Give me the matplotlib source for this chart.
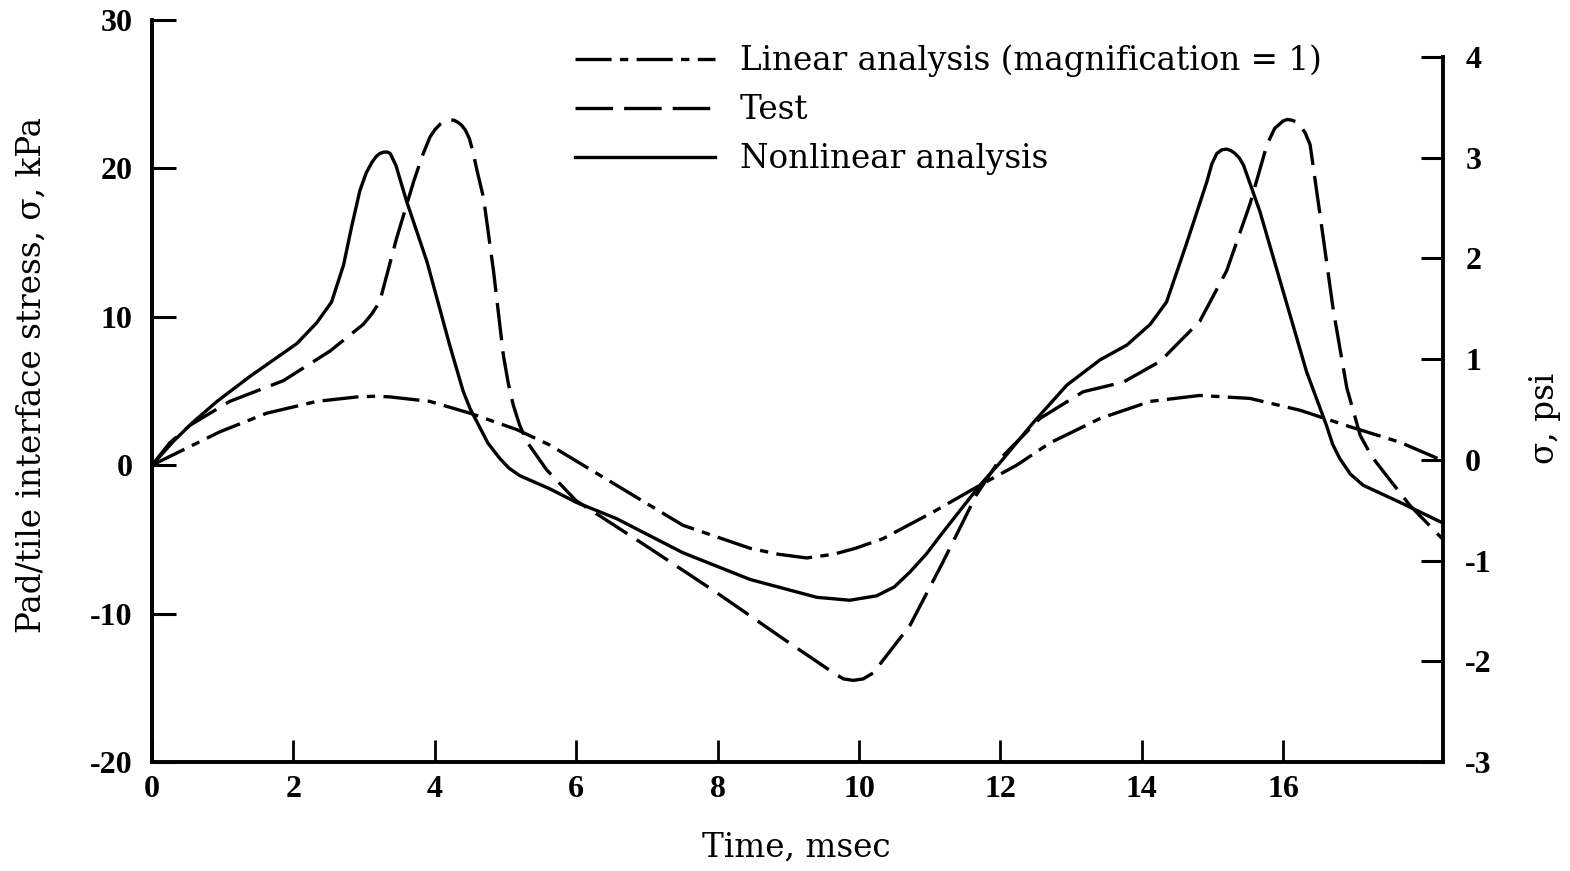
import matplotlib
matplotlib.use("Agg")
import matplotlib.pyplot as plt

# ---------------- data ----------------
nonlinear_t = [0, 0.30, 0.58, 0.92, 1.39, 2.05, 2.33, 2.54, 2.71, 2.82, 2.94, 3.03, 3.11, 3.17,
               3.22, 3.28, 3.33, 3.37, 3.45, 3.60, 3.89, 4.21, 4.40, 4.50, 4.62, 4.75, 4.92, 5.05,
               5.20, 5.63, 6.0, 6.57, 7.51, 8.46, 9.40, 9.87, 10.25, 10.50, 10.72, 10.95, 11.19,
               11.71, 12.0, 12.47, 12.94, 13.41, 13.79, 14.12, 14.35, 14.63, 14.92, 14.99, 15.06,
               15.13, 15.20, 15.26, 15.32, 15.38, 15.44, 15.67, 16.0, 16.33, 16.61, 16.70, 16.80,
               16.95, 17.13, 17.65, 18.26]
nonlinear_s = [0, 1.6, 2.9, 4.3, 6.0, 8.2, 9.6, 11.0, 13.5, 16.0, 18.5, 19.7, 20.4, 20.8,
               21.0, 21.1, 21.1, 21.0, 20.2, 17.8, 13.7, 8.1, 5.0, 3.8, 2.7, 1.5, 0.45, -0.2,
               -0.7, -1.6, -2.5, -3.6, -5.9, -7.7, -8.9, -9.1, -8.8, -8.2, -7.2, -6.0, -4.5,
               -1.35, 0.2, 2.9, 5.4, 7.1, 8.1, 9.5, 11.0, 14.9, 19.1, 20.3, 21.0,
               21.25, 21.3, 21.2, 21.0, 20.7, 20.2, 17.1, 11.7, 6.3, 2.7, 1.4, 0.45,
               -0.6, -1.35, -2.5, -3.9]

test_t = [0, 0.25, 0.54, 1.10, 1.86, 2.52, 2.99, 3.11, 3.22, 3.46, 3.70, 3.82, 3.93, 4.0, 4.08,
          4.14, 4.21, 4.27, 4.33, 4.38, 4.43, 4.49, 4.54, 4.60, 4.69, 4.83, 4.97, 5.04, 5.11,
          5.20, 5.30, 5.58, 6.0, 6.2, 7.04, 7.99, 8.93, 9.64, 9.78, 9.92, 10.06, 10.20, 10.72,
          11.19, 11.66, 12.0, 12.56, 13.17, 13.74, 14.26, 14.82, 15.20, 15.53, 15.77, 15.88,
          16.0, 16.06, 16.12, 16.18, 16.24, 16.31, 16.38, 16.52, 16.71, 16.90, 17.09, 17.25,
          17.42, 17.79, 18.26]
test_s = [0, 1.5, 2.7, 4.3, 5.7, 7.7, 9.5, 10.2, 11.0, 15.3, 19.1, 20.8, 22.1, 22.6, 23.0,
          23.2, 23.25, 23.25, 23.1, 22.9, 22.6, 22.0, 21.1, 19.8, 18.0, 13.1, 7.4, 5.5, 4.05,
          2.7, 1.6, -0.3, -2.4, -3.0, -5.6, -8.6, -11.7, -14.0, -14.4, -14.5, -14.4, -14.0, -10.8,
          -6.5, -2.0, 0.45, 3.15, 4.95, 5.6, 7.0, 9.7, 13.1, 17.6, 21.6, 22.7,
          23.2, 23.3, 23.25, 23.15, 22.9, 22.4, 21.6, 16.9, 10.4, 5.2, 2.0, 0.6,
          -0.45, -2.7, -5.0]

linear_t = [0, 0.96, 1.62, 2.33, 2.90, 3.18, 3.37, 3.93, 4.50, 5.16, 5.63, 6.29, 6.57, 7.51,
            8.46, 8.86, 9.26, 9.64, 9.95, 10.34, 11.05, 11.71, 12.23, 12.70, 13.41, 14.12,
            14.82, 15.53, 16.24, 16.94, 17.65, 18.26]
linear_s = [0, 2.25, 3.5, 4.3, 4.6, 4.65, 4.6, 4.3, 3.5, 2.4, 1.35, -0.55, -1.35, -4.05,
            -5.6, -6.0, -6.25, -6.0, -5.6, -4.95, -3.15, -1.35, 0.0, 1.5, 3.15, 4.3,
            4.7, 4.5, 3.7, 2.6, 1.55, 0.3]

labels = ["Linear analysis (magnification = 1)", "Test", "Nonlinear analysis"]
x_ticks = [0, 2, 4, 6, 8, 10, 12, 14, 16]
kpa_ticks = [-20, -10, 0, 10, 20, 30]
psi_ticks = [-3, -2, -1, 0, 1, 2, 3, 4]

# ---------------- style ----------------
plt.rcParams["lines.scale_dashes"] = False
serif = ["DejaVu Serif"]
tickfam = ["Liberation Serif", "DejaVu Serif"]
plt.rcParams["font.family"] = serif

W, H = 1570, 871
fig = plt.figure(figsize=(W / 100, H / 100), dpi=100)
L, R, B, T = 152, 1443, 762, 20
ax = fig.add_axes([L / W, 1 - B / H, (R - L) / W, (B - T) / H])

lw = 2.4
ax.plot(linear_t, linear_s, color="black", lw=lw, dashes=(26, 6, 6, 6), label=labels[0])
ax.plot(test_t, test_s, color="black", lw=lw, dashes=(27, 8), label=labels[1])
ax.plot(nonlinear_t, nonlinear_s, color="black", lw=lw, label=labels[2])

ax.set_xlim(0, 18.26)
ax.set_ylim(-20, 30)
ax.set_xticks(x_ticks)
ax.set_yticks(kpa_ticks)
ax.set_xticklabels([str(v) for v in x_ticks])
ax.set_yticklabels([str(v) for v in kpa_ticks])

for s in ["top", "right"]:
    ax.spines[s].set_visible(False)
for s in ["left", "bottom"]:
    ax.spines[s].set_linewidth(2.8)

tick_fs = 23
ax.tick_params(axis="y", direction="in", length=17, width=2.2, pad=14)
ax.tick_params(axis="x", direction="in", length=16, width=2.0, pad=9)
for lab in ax.get_xticklabels() + ax.get_yticklabels():
    lab.set_fontfamily(tickfam)
    lab.set_fontsize(tick_fs)
    lab.set_fontweight("bold")

ax2 = ax.twinx()
ax2.set_ylim(-3, 4.367)
ax2.set_yticks(psi_ticks)
ax2.set_yticklabels([str(v) for v in psi_ticks])
for s in ["top", "left", "bottom"]:
    ax2.spines[s].set_visible(False)
ax2.spines["right"].set_linewidth(2.8)
ax2.spines["right"].set_bounds(-3, 4)
ax2.tick_params(axis="y", direction="in", length=16, width=2.2, pad=16)
for lab in ax2.get_yticklabels():
    lab.set_fontfamily(tickfam)
    lab.set_fontsize(tick_fs)
    lab.set_fontweight("bold")

# axis titles
fs = 23.5
fig.text(32 / W, 1 - 375 / H, "Pad/tile interface stress, σ, kPa", rotation=90,
         ha="center", va="center", fontsize=fs)
fig.text(1545 / W, 1 - 418 / H, "σ, psi", rotation=90, ha="center", va="center", fontsize=fs)
fig.text(796 / W, 1 - 848 / H, "Time, msec", ha="center", va="center", fontsize=fs)

fpx = fs * 100 / 72
leg = ax.legend(loc="upper left", bbox_to_anchor=(575 / W, 1 - 44.5 / H),
                bbox_transform=fig.transFigure, frameon=False, fontsize=fs,
                handlelength=140 / fpx, handletextpad=25 / fpx, labelspacing=0.52,
                borderpad=0, borderaxespad=0)

fig.savefig("out.png", dpi=100)
